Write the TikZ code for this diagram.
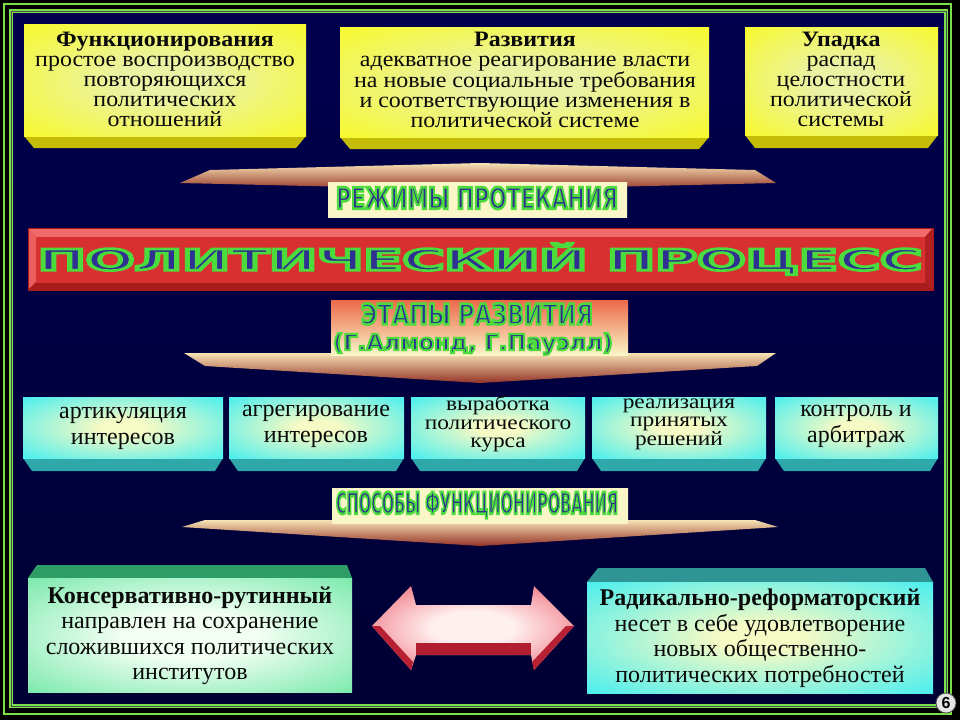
\documentclass[tikz,border=0pt]{standalone}
\usepackage{fontspec}
\setmainfont{Liberation Serif}
\newfontfamily\widefont[FakeStretch=1.14]{Liberation Serif}
\newfontfamily\topfont[FakeStretch=1.09]{Liberation Serif}
\newfontfamily\bannerfont[FakeBold=9]{DejaVu Sans Bold}
\newfontfamily\numfont{Liberation Sans}
\definecolor{ink}{HTML}{0A0A0A}
\definecolor{bgtop}{HTML}{00004E}
\definecolor{bgmid}{HTML}{00006E}
\definecolor{bgbot}{HTML}{000034}
\definecolor{framegreen}{HTML}{7CE04A}
\definecolor{yelin}{HTML}{EAF2A4}
\definecolor{yelout}{HTML}{FAFA1A}
\definecolor{yelbevel}{HTML}{C4BC06}
\definecolor{cyin}{HTML}{F6FAC4}
\definecolor{cyout}{HTML}{46EEF0}
\definecolor{cybevel}{HTML}{2EA8A8}
\definecolor{grin}{HTML}{F4FFF4}
\definecolor{grout}{HTML}{5CE49A}
\definecolor{grbevel}{HTML}{2E9E66}
\definecolor{cy2bevel}{HTML}{2E9494}
\definecolor{bannerblue}{HTML}{2E3192}
\definecolor{barred}{HTML}{D83030}
\definecolor{barlight}{HTML}{F06A6A}
\definecolor{bardark}{HTML}{A81C1C}
\definecolor{barpink}{HTML}{FFE2DA}
\definecolor{chevpale}{HTML}{F6E2B4}
\definecolor{chevbrown}{HTML}{943226}
\definecolor{lblpale}{HTML}{FAF6C8}
\definecolor{lblred}{HTML}{EC6A4A}
\definecolor{arrred}{HTML}{E63446}
\definecolor{arrpale}{HTML}{FFF0F0}
\definecolor{arrdark}{HTML}{B01E30}
\pgfdeclareradialshading{yelshade}{\pgfpoint{0bp}{0bp}}{color(0bp)=(yelin); color(8bp)=(yelin); color(40bp)=(yelout); color(100bp)=(yelout)}
\pgfdeclareradialshading{cyshade}{\pgfpoint{0bp}{0bp}}{color(0bp)=(cyin); color(6bp)=(cyin); color(36bp)=(cyout); color(100bp)=(cyout)}
\pgfdeclareradialshading{grshade}{\pgfpoint{0bp}{0bp}}{color(0bp)=(grin); color(10bp)=(grin); color(42bp)=(grout); color(100bp)=(grout)}
\pgfdeclareradialshading{lblshade}{\pgfpoint{0bp}{0bp}}{color(0bp)=(lblpale); color(34bp)=(lblpale); color(52bp)=(lblred); color(100bp)=(lblred)}
\pgfdeclareradialshading{arrshade}{\pgfpoint{0bp}{0bp}}{color(0bp)=(arrpale); color(10bp)=(arrpale); color(44bp)=(arrred); color(100bp)=(arrred)}
\newcommand\greenstroke{\special{pdf:literal direct 0.30 0.86 0.24 RG}}
\newcommand\bannertext[3]{{\color{bannerblue}\resizebox{#1}{#2}{\greenstroke\bannerfont #3}}}
\begin{document}
\begin{tikzpicture}[x=1pt,y=-1pt,
  txt/.style={font=\topfont\fontsize{22}{20}\selectfont, text=ink, align=center, inner sep=0pt},
  txtm/.style={font=\fontsize{24}{26}\selectfont, text=ink, align=center, inner sep=0pt},
  txtmm/.style={font=\widefont\fontsize{20.5}{18.5}\selectfont, text=ink, align=center, inner sep=0pt},
  txtb/.style={font=\fontsize{24}{25.5}\selectfont, text=ink, align=center, inner sep=0pt},
  yface/.style={shading=yelshade},
  cface/.style={shading=cyshade},
  gface/.style={shading=grshade},
  lbl/.style={shading=lblshade},
  ban/.style={inner sep=0pt}]
\useasboundingbox (0,0) rectangle (960,720);
\fill[black] (0,0) rectangle (960,720);
\shade[top color=bgtop, middle color=bgmid, bottom color=bgbot] (11,11) rectangle (946,706);
\draw[framegreen, line width=2] (4,4) rectangle (951,714);
\draw[framegreen, line width=4] (11,11) rectangle (946,706);
\draw[black!70, line width=0.7] (11,11) rectangle (946,706);

% top yellow boxes
\fill[yelbevel] (24,136) -- (306,136) -- (296,148) -- (34,148) -- cycle;
\shade[yface] (24,24) rectangle (306,136);
\fill[yelbevel] (340,137) -- (709,137) -- (699,149) -- (350,149) -- cycle;
\shade[yface] (340,27) rectangle (709,137);
\fill[yelbevel] (745,135) -- (938,135) -- (928,148) -- (755,148) -- cycle;
\shade[yface] (745,27) rectangle (938,135);
\node[txt] (t1) at (165,79) {\textbf{Функционирования}\\простое воспроизводство\\повторяющихся\\политических\\отношений};
\node[txt] (t2) at (525,80) {\textbf{Развития}\\адекватное реагирование власти\\на новые социальные требования\\и соответствующие изменения в\\политической системе};
\node[txt] (t3) at (841,79) {\textbf{Упадка}\\распад\\целостности\\политической\\системы};

% roof chevron + label 1
\shade[top color=chevpale, bottom color=chevbrown] (180,183) -- (210,170) -- (480,163) -- (755,170) -- (776,183) -- (480,190) -- cycle;
\shade[lbl] (328,182) rectangle (627,217);
\node[ban] (b1) at (477,198) {\bannertext{282pt}{22pt}{РЕЖИМЫ ПРОТЕКАНИЯ}};

% big red bar
\fill[barred] (28,228) rectangle (933,290);
\fill[barlight] (28,228) -- (933,228) -- (925,237) -- (36,237) -- cycle;
\fill[barlight!80!barred] (28,228) -- (36,237) -- (36,282) -- (28,290) -- cycle;
\fill[bardark] (28,290) -- (36,282) -- (925,282) -- (933,290) -- cycle;
\fill[bardark!80!barred] (933,228) -- (925,237) -- (925,282) -- (933,290) -- cycle;
\shade[top color=barred, middle color=barpink, bottom color=barred] (36,237) rectangle (925,282);
\draw[bardark, line width=0.8] (28,228) rectangle (933,290);
\node[ban] (b2) at (480,259) {\bannertext{884pt}{27pt}{ПОЛИТИЧЕСКИЙ ПРОЦЕСС}};

% stages label + down chevron
\shade[top color=chevpale, bottom color=chevbrown] (184,353) -- (776,353) -- (757,366) -- (480,383) -- (205,366) -- cycle;
\shade[top color=lblred, bottom color=lblpale] (331,300) rectangle (628,355);
\node[ban] (b3) at (477,314) {\bannertext{232pt}{21pt}{ЭТАПЫ РАЗВИТИЯ}};
\node[ban] (b4) at (473,344) {\bannertext{280pt}{17pt}{(Г.Алмонд, Г.Пауэлл)}};

% cyan stage boxes
\foreach \xa/\xb in {23/223, 229/404, 411/585, 592/766, 775/938}{
  \fill[cybevel] (\xa,458) -- (\xb,458) -- (\xb-8,471) -- (\xa+9,471) -- cycle;
  \shade[cface] (\xa,397) rectangle (\xb,458);
}
\node[txtm] (s1) at (123,428) {артикуляция\\интересов};
\node[txtm] (s2) at (316,426) {агрегирование\\интересов};
\node[txtmm] (s3) at (498,424) {выработка\\политического\\курса};
\node[txtmm] (s4) at (679,424) {реализация\\принятых\\решений};
\node[txtm] (s5) at (856,426) {контроль и\\арбитраж};

% functioning label + chevron
\shade[top color=chevpale, bottom color=chevbrown] (182,527) -- (205,520) -- (755,520) -- (778,527) -- (480,546) -- cycle;
\shade[lbl] (332,488) rectangle (628,523);
\node[ban] (b5) at (477,505) {\bannertext{282pt}{22pt}{СПОСОБЫ ФУНКЦИОНИРОВАНИЯ}};

% bottom boxes
\fill[grbevel] (37,565) -- (347,565) -- (352,578) -- (28,578) -- cycle;
\shade[gface] (28,578) rectangle (352,692);
\node[txtb] (c1) at (190,636) {\textbf{Консервативно-рутинный}\\направлен на сохранение\\сложившихся политических\\институтов};
\fill[cy2bevel] (598,568) -- (925,568) -- (933,582) -- (587,582) -- cycle;
\shade[cface] (587,582) rectangle (933,693);
\node[txtb] (c2) at (760,638) {\textbf{Радикально-реформаторский}\\несет в себе удовлетворение\\новых общественно-\\политических потребностей};

% double arrow
\shade[shading=arrshade] (372,626) -- (411,586) -- (416,605) -- (531,605) -- (534,586) -- (574,626) -- (534,670) -- (531,655) -- (416,655) -- (411,670) -- cycle;
\fill[arrdark] (416,643) -- (531,643) -- (531,655) -- (416,655) -- cycle;
\fill[arrdark!85!arrred] (372,626) -- (411,670) -- (413,662) -- (380,626) -- cycle;
\fill[arrdark!85!arrred] (574,626) -- (534,670) -- (532,662) -- (566,626) -- cycle;

% page number
\node[circle, fill=black!10, draw=black!70, line width=0.8, minimum size=20pt, inner sep=0pt, font=\numfont\bfseries\fontsize{16}{16}\selectfont] (pg) at (946,703) {6};
\end{tikzpicture}
\end{document}
